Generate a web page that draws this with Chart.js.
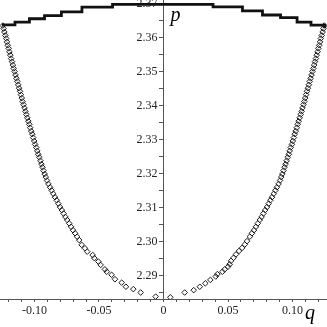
<!DOCTYPE html>
<html>
<head>
<meta charset="utf-8">
<script src="https://cdn.jsdelivr.net/npm/chart.js@4"></script>
<style>
  html, body { margin: 0; padding: 0; background: #fff; }
  #wrap { width: 327px; height: 327px; }
</style>
</head>
<body>
<div id="wrap"><canvas id="chart"></canvas></div>
<script>
// staircase along the top
const topQ = [-0.1252, -0.1151, -0.1039, -0.0922, -0.0791, -0.0632, -0.0395, 0.0384, 0.0612, 0.0767, 0.0907, 0.1035, 0.1143, 0.1240, 0.1250];
const topP = [2.3637, 2.3645, 2.3655, 2.3664, 2.3675, 2.3689, 2.3697, 2.3690, 2.3678, 2.3666, 2.3658, 2.3645, 2.3636, 2.3636, 2.3628];

// lower part of the left branch
const lowLeftQ = [-0.0061, -0.0177, -0.0234, -0.0291, -0.0324, -0.0376, -0.0402, -0.0440, -0.0454, -0.0487, -0.0505, -0.0536, -0.0549, -0.0591, -0.0609, -0.0634, -0.0653];
const lowLeftP = [2.2839, 2.2851, 2.2861, 2.2868, 2.2880, 2.2890, 2.2903, 2.2912, 2.2919, 2.2932, 2.2942, 2.2952, 2.2961, 2.2971, 2.2981, 2.2991, 2.3005];

// lower part of the right branch
const lowRightQ = [0.0053, 0.0164, 0.0234, 0.0281, 0.0324, 0.0363, 0.0405, 0.0417, 0.0456, 0.0474, 0.0500, 0.0513, 0.0523, 0.0543, 0.0562, 0.0585, 0.0609, 0.0630, 0.0647];
const lowRightP = [2.2837, 2.2851, 2.2858, 2.2868, 2.2878, 2.2888, 2.2898, 2.2905, 2.2912, 2.2919, 2.2927, 2.2934, 2.2944, 2.2953, 2.2963, 2.2973, 2.2982, 2.2992, 2.3002];

// upper part, same on both sides (|q|)
const upQ = [0.0669, 0.0685, 0.0701, 0.0716, 0.0731, 0.0746, 0.0760, 0.0774, 0.0788, 0.0802,
  0.0815, 0.0828, 0.0841, 0.0854, 0.0867, 0.0879, 0.0892, 0.0903, 0.0912, 0.0921,
  0.0930, 0.0938, 0.0946, 0.0954, 0.0962, 0.0971, 0.0978, 0.0986, 0.0995, 0.1002,
  0.1010, 0.1017, 0.1025, 0.1033, 0.1040, 0.1047, 0.1055, 0.1063, 0.1070, 0.1077,
  0.1085, 0.1092, 0.1098, 0.1105, 0.1112, 0.1119, 0.1126, 0.1133, 0.1140, 0.1147,
  0.1154, 0.1161, 0.1167, 0.1174, 0.1181, 0.1187, 0.1194, 0.1200, 0.1207, 0.1213,
  0.1219, 0.1226, 0.1233, 0.1239, 0.1245];
const upP = [2.3015, 2.3025, 2.3034, 2.3044, 2.3054, 2.3064, 2.3073, 2.3083, 2.3093, 2.3102,
  2.3112, 2.3122, 2.3131, 2.3141, 2.3151, 2.3160, 2.3170, 2.3180, 2.3190, 2.3199,
  2.3209, 2.3219, 2.3228, 2.3238, 2.3248, 2.3257, 2.3267, 2.3277, 2.3286, 2.3296,
  2.3306, 2.3316, 2.3325, 2.3335, 2.3345, 2.3354, 2.3364, 2.3374, 2.3383, 2.3393,
  2.3403, 2.3412, 2.3422, 2.3432, 2.3442, 2.3451, 2.3461, 2.3471, 2.3480, 2.3490,
  2.3500, 2.3509, 2.3519, 2.3529, 2.3538, 2.3548, 2.3558, 2.3568, 2.3577, 2.3587,
  2.3597, 2.3606, 2.3616, 2.3626, 2.3635];

// tick labels
const xTickValues = [-0.10, -0.05, 0, 0.05, 0.10];
const xTickLabels = ['-0.10', '-0.05', '0', '0.05', '0.10'];
const yTickValues = [2.29, 2.30, 2.31, 2.32, 2.33, 2.34, 2.35, 2.36, 2.37];
const yTickLabels = ['2.29', '2.30', '2.31', '2.32', '2.33', '2.34', '2.35', '2.36', '2.37'];

const toPts = (qs, ps, sign) => qs.map((q, i) => ({ x: sign * q, y: ps[i] }));
const leftBranch = toPts(lowLeftQ, lowLeftP, 1).concat(toPts(upQ, upP, -1));
const rightBranch = toPts(lowRightQ, lowRightP, 1).concat(toPts(upQ, upP, 1));
const topLine = toPts(topQ, topP, 1);

function pickLabel(values, labels, v) {
    const i = values.findIndex(t => Math.abs(t - v) < 1e-7);
    return i >= 0 ? labels[i] : '';
}

const tickFont = { family: 'Liberation Serif', size: 12 };
const axisColor = '#555';

const axisLetters = {
    id: 'axisLetters',
    afterDraw(chart) {
        const ctx = chart.ctx;
        const xs = chart.scales.x, ys = chart.scales.y;
        ctx.save();
        ctx.fillStyle = '#000';
        ctx.font = 'italic 20px "Liberation Serif"';
        ctx.textBaseline = 'alphabetic';
        ctx.fillText('p', xs.getPixelForValue(0) + 7, 21);
        ctx.fillText('q', 305, ys.bottom + 20);
        ctx.restore();
    }
};

const pointStyle = {
    showLine: false,
    pointStyle: 'rectRot',
    pointRadius: 2.8,
    pointHoverRadius: 2.8,
    pointBorderWidth: 1,
    pointBorderColor: '#1a1a1a',
    pointBackgroundColor: 'rgba(0,0,0,0)'
};

new Chart(document.getElementById('chart'), {
    type: 'scatter',
    data: {
        datasets: [
            { data: leftBranch, ...pointStyle },
            { data: rightBranch, ...pointStyle },
            {
                data: topLine,
                showLine: true,
                stepped: true,
                borderColor: '#111',
                borderWidth: 2.8,
                pointRadius: 0,
                pointHoverRadius: 0
            }
        ]
    },
    options: {
        responsive: true,
        maintainAspectRatio: false,
        animation: false,
        events: [],
        layout: { padding: 0, autoPadding: false },
        plugins: {
            legend: { display: false },
            tooltip: { enabled: false }
        },
        scales: {
            x: {
                type: 'linear',
                position: 'bottom',
                min: -0.1267,
                max: 0.1267,
                ticks: {
                    stepSize: 0.01,
                    includeBounds: false,
                    autoSkip: false,
                    maxRotation: 0,
                    padding: 2,
                    color: '#222',
                    font: tickFont,
                    callback: v => pickLabel(xTickValues, xTickLabels, v)
                },
                grid: { drawOnChartArea: false, tickLength: 3, color: axisColor },
                border: { color: axisColor, width: 1 },
                afterFit(s) { s.height = 28; s.paddingLeft = 0; s.paddingRight = 0; }
            },
            y: {
                type: 'linear',
                position: { x: 0 },
                min: 2.2832,
                max: 2.3710,
                ticks: {
                    stepSize: 0.005,
                    includeBounds: false,
                    autoSkip: false,
                    color: '#222',
                    font: tickFont,
                    // a centred axis puts labels flush on the line, so keep a gap
                    callback: v => {
                        const s = pickLabel(yTickValues, yTickLabels, v);
                        return s ? s + '\u2002' : '';
                    }
                },
                grid: { drawOnChartArea: false, tickLength: 4, color: axisColor },
                border: { color: axisColor, width: 1 },
                afterFit(s) { s.paddingTop = 0; s.paddingBottom = 0; }
            }
        }
    },
    plugins: [axisLetters]
});
</script>
</body>
</html>
